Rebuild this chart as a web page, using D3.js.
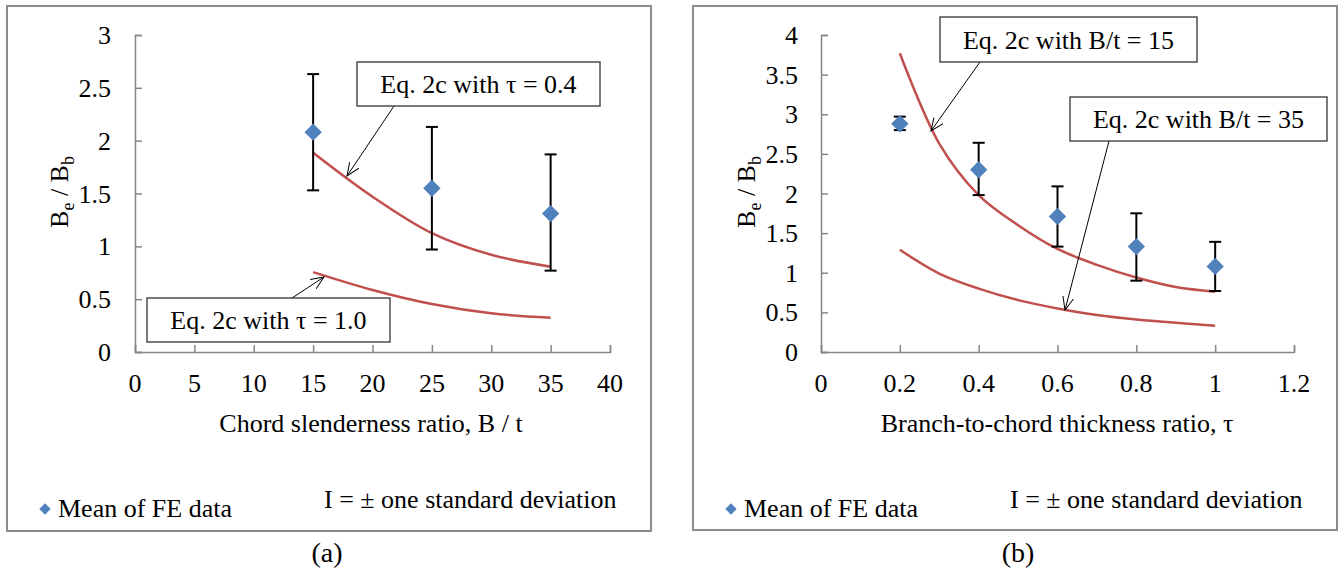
<!DOCTYPE html>
<html>
<head>
<meta charset="utf-8">
<script src="https://cdn.jsdelivr.net/npm/d3@7"></script>
<style>
  body { margin: 0; background: #fff; }
  svg { display: block; }
  text { font-family: 'Liberation Serif', 'DejaVu Serif', serif; }
</style>
</head>
<body>
<svg id="chart" width="1339" height="571" font-family="Liberation Serif, DejaVu Serif, serif"></svg>
<script>
// * panel (a): chord slenderness ratio
const slenderness = [15, 25, 35];
const slenderMean = [2.08, 1.55, 1.31];
const slenderLow = [1.53, 0.97, 0.77];
const slenderHigh = [2.63, 2.13, 1.87];
const curveSlenderX = [15, 20, 25, 30, 35];
const curveTau04 = [1.886, 1.47, 1.125, 0.92, 0.807];
const curveTau10 = [0.756, 0.587, 0.454, 0.366, 0.325];
const ticksA = [0, 5, 10, 15, 20, 25, 30, 35, 40];
const yTicksA = [0, 0.5, 1, 1.5, 2, 2.5, 3];

// * panel (b): branch-to-chord thickness ratio
const thickness = [0.2, 0.4, 0.6, 0.8, 1.0];
const thickMean = [2.88, 2.3, 1.71, 1.33, 1.08];
const thickLow = [2.8, 1.98, 1.33, 0.9, 0.77];
const thickHigh = [2.97, 2.64, 2.09, 1.75, 1.39];
const curveThickX = [0.2, 0.3, 0.4, 0.5, 0.6, 0.7, 0.8, 0.9, 1.0];
const curveBt15 = [3.77, 2.63, 1.98, 1.6, 1.3, 1.1, 0.94, 0.82, 0.76];
const curveBt35 = [1.29, 0.99, 0.8, 0.655, 0.55, 0.466, 0.41, 0.37, 0.33];
const ticksB = [0, 0.2, 0.4, 0.6, 0.8, 1, 1.2];
const yTicksB = [0, 0.5, 1, 1.5, 2, 2.5, 3, 3.5, 4];

const svg = d3.select("#chart");
const axisColor = "#868686";
const curveColor = "#C0504D";
const markerColor = "#4F81BD";

// open arrow head
svg.append("defs").append("marker")
  .attr("id", "arrow")
  .attr("viewBox", "0 -6 14 12")
  .attr("refX", 13).attr("refY", 0)
  .attr("markerWidth", 14).attr("markerHeight", 12)
  .attr("markerUnits", "userSpaceOnUse")
  .attr("orient", "auto")
  .append("path")
  .attr("d", "M0,-5.5L13,0L0,5.5")
  .attr("fill", "none").attr("stroke", "#000").attr("stroke-width", 1);

const panels = [
  {
    frame: [7, 6, 644, 525],
    x: d3.scaleLinear().domain([0, 40]).range([135, 610]),
    y: d3.scaleLinear().domain([0, 3]).range([352, 35]),
    xTicks: ticksA, yTicks: yTicksA, yLabelX: 111,
    xs: slenderness, mean: slenderMean, low: slenderLow, high: slenderHigh,
    curveX: curveSlenderX, curves: [curveTau04, curveTau10],
    xTitle: "Chord slenderness ratio, B / t", xTitleX: 371, yTitleX: 59,
    legendX: 45, noteX: 324, caption: "(a)", captionX: 327,
    notes: [
      { box: [357, 62, 243, 44], text: "Eq. 2c with τ = 0.4", from: [394, 106], to: [347, 176] },
      { box: [147, 298, 243, 44], text: "Eq. 2c with τ = 1.0", from: [292, 298], to: [324, 277] },
    ],
  },
  {
    frame: [693, 6, 644, 524],
    x: d3.scaleLinear().domain([0, 1.2]).range([821, 1294]),
    y: d3.scaleLinear().domain([0, 4]).range([352, 35]),
    xTicks: ticksB, yTicks: yTicksB, yLabelX: 798,
    xs: thickness, mean: thickMean, low: thickLow, high: thickHigh,
    curveX: curveThickX, curves: [curveBt15, curveBt35],
    xTitle: "Branch-to-chord thickness ratio, τ", xTitleX: 1057, yTitleX: 746,
    legendX: 731, noteX: 1010, caption: "(b)", captionX: 1018,
    notes: [
      { box: [940, 17, 257, 45], text: "Eq. 2c with B/t = 15", from: [980, 62], to: [931, 131] },
      { box: [1070, 97, 257, 44], text: "Eq. 2c with B/t = 35", from: [1109, 141], to: [1065, 310] },
    ],
  },
];

panels.forEach((p) => {
  const g = svg.append("g");
  const [fx, fy, fw, fh] = p.frame;
  g.append("rect")
    .attr("x", fx).attr("y", fy).attr("width", fw).attr("height", fh)
    .attr("fill", "#fff").attr("stroke", "#8c8c8c").attr("stroke-width", 2);

  const y0 = p.y(0);
  const x0 = p.x.range()[0];

  // * axes with inside ticks
  const xAxis = g.append("g").attr("transform", `translate(0,${y0})`)
    .call(d3.axisTop(p.x).tickValues(p.xTicks).tickSize(7).tickFormat(""));
  const yAxis = g.append("g").attr("transform", `translate(${x0},0)`)
    .call(d3.axisRight(p.y).tickValues(p.yTicks).tickSize(7).tickFormat(""));
  [xAxis, yAxis].forEach((a) => {
    a.selectAll("path").attr("stroke", axisColor).attr("stroke-width", 1.5);
    a.selectAll("line").attr("stroke", axisColor).attr("stroke-width", 1.5);
  });

  g.selectAll(".xlab").data(p.xTicks).enter().append("text")
    .attr("x", (d) => p.x(d)).attr("y", 392)
    .attr("text-anchor", "middle").attr("font-size", 26)
    .text((d) => d);
  g.selectAll(".ylab").data(p.yTicks).enter().append("text")
    .attr("x", p.yLabelX).attr("y", (d) => p.y(d) + 9)
    .attr("text-anchor", "end").attr("font-size", 26)
    .text((d) => d);

  g.append("text").attr("x", p.xTitleX).attr("y", 432)
    .attr("text-anchor", "middle").attr("font-size", 26).text(p.xTitle);

  const yt = g.append("text")
    .attr("transform", `translate(${p.yTitleX + 9},192) rotate(-90)`)
    .attr("text-anchor", "middle").attr("font-size", 26);
  yt.append("tspan").text("B");
  yt.append("tspan").attr("font-size", 18).attr("dy", 6).text("e");
  yt.append("tspan").attr("dy", -6).text(" / B");
  yt.append("tspan").attr("font-size", 18).attr("dy", 6).text("b");

  // * model curves
  const line = d3.line()
    .x((d) => p.x(d[0])).y((d) => p.y(d[1]))
    .curve(d3.curveCatmullRom);
  p.curves.forEach((c) => {
    g.append("path")
      .datum(p.curveX.map((x, i) => [x, c[i]]))
      .attr("d", line)
      .attr("fill", "none").attr("stroke", curveColor).attr("stroke-width", 2.5);
  });

  // * error bars
  const bars = g.append("g").attr("stroke", "#000").attr("stroke-width", 2);
  p.xs.forEach((x, i) => {
    const cx = p.x(x);
    bars.append("line").attr("x1", cx).attr("x2", cx).attr("y1", p.y(p.low[i])).attr("y2", p.y(p.high[i]));
    [p.low[i], p.high[i]].forEach((v) => {
      bars.append("line").attr("x1", cx - 6).attr("x2", cx + 6).attr("y1", p.y(v)).attr("y2", p.y(v));
    });
  });

  // * mean markers
  g.selectAll(".pt").data(p.xs).enter().append("path")
    .attr("d", d3.symbol(d3.symbolSquare, 150))
    .attr("transform", (d, i) => `translate(${p.x(d)},${p.y(p.mean[i])}) rotate(45)`)
    .attr("fill", markerColor);

  // * callouts
  p.notes.forEach((n) => {
    g.append("line")
      .attr("x1", n.from[0]).attr("y1", n.from[1]).attr("x2", n.to[0]).attr("y2", n.to[1])
      .attr("stroke", "#000").attr("stroke-width", 1).attr("marker-end", "url(#arrow)");
    g.append("rect")
      .attr("x", n.box[0]).attr("y", n.box[1]).attr("width", n.box[2]).attr("height", n.box[3])
      .attr("fill", "#fff").attr("stroke", "#333").attr("stroke-width", 1.3);
    g.append("text")
      .attr("x", n.box[0] + n.box[2] / 2).attr("y", n.box[1] + n.box[3] / 2 + 9)
      .attr("text-anchor", "middle").attr("font-size", 26).text(n.text);
  });

  // * legend
  g.append("path")
    .attr("d", d3.symbol(d3.symbolSquare, 64))
    .attr("transform", `translate(${p.legendX},509) rotate(45)`)
    .attr("fill", markerColor);
  g.append("text").attr("x", p.legendX + 13).attr("y", 517)
    .attr("font-size", 26).text("Mean of FE data");
  g.append("text").attr("x", p.noteX).attr("y", 508)
    .attr("font-size", 26).text("I = ± one standard deviation");

  svg.append("text").attr("x", p.captionX).attr("y", 562)
    .attr("text-anchor", "middle").attr("font-size", 28).text(p.caption);
});
</script>
</body>
</html>
